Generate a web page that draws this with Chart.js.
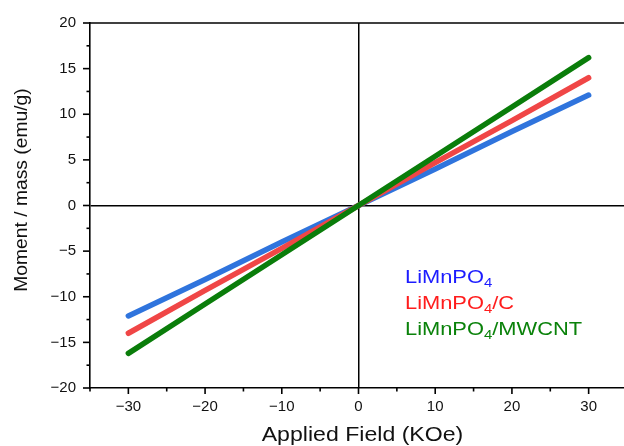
<!DOCTYPE html>
<html>
<head>
<meta charset="utf-8">
<script src="https://cdn.jsdelivr.net/npm/chart.js@4/dist/chart.umd.min.js"></script>
<style>
  html, body { margin: 0; padding: 0; overflow: hidden; background: #fff; }
  canvas { display: block; }
</style>
</head>
<body>
<canvas id="c" width="640" height="446"></canvas>
<script>
// ---- data ----
const fieldKOe = [-30, -20, -10, 0, 10, 20, 30];
const seriesNames = ['LiMnPO4', 'LiMnPO4/C', 'LiMnPO4/MWCNT'];
const momentLiMnPO4 = [-12.1, -8.1, -4.0, 0, 4.0, 8.1, 12.1];
const momentLiMnPO4C = [-14.0, -9.3, -4.7, 0, 4.7, 9.3, 14.0];
const momentLiMnPO4MWCNT = [-16.2, -10.8, -5.4, 0, 5.4, 10.8, 16.2];
const xTickValues = [-30, -20, -10, 0, 10, 20, 30];
const yTickValues = [-20, -15, -10, -5, 0, 5, 10, 15, 20];
const xTitle = 'Applied Field (KOe)';
const yTitle = 'Moment / mass (emu/g)';

const lineColors = ['#2f74dd', '#f04646', '#0a7d0a'];
const legendColors = ['#1c1cff', '#ff1c1c', '#0a820a'];
const FONT = '"Liberation Sans", Arial, sans-serif';

const allSeries = [momentLiMnPO4, momentLiMnPO4C, momentLiMnPO4MWCNT];
const datasets = allSeries.map((vals, i) => ({
  label: seriesNames[i],
  data: fieldKOe.map((x, k) => ({ x: x, y: vals[k] })),
  borderColor: lineColors[i],
  backgroundColor: lineColors[i],
  borderWidth: 5.5,
  borderCapStyle: 'round',
  pointRadius: 0,
  tension: 0,
  fill: false
}));
// draw order: green first, then red, then blue on top (as in reference)
datasets.reverse();

const minus = v => (v < 0 ? '\u2212' + Math.abs(v) : String(v));

const decor = {
  id: 'decor',
  beforeDatasetsDraw(chart) {
    const ctx = chart.ctx;
    const a = chart.chartArea;
    const xs = chart.scales.x, ys = chart.scales.y;
    ctx.save();
    ctx.strokeStyle = '#000';
    ctx.lineWidth = 1.6;
    // top frame line
    ctx.beginPath();
    ctx.moveTo(a.left, a.top);
    ctx.lineTo(a.right + 20, a.top);
    ctx.stroke();
    // x tick marks
    for (let v = -35; v <= 35; v += 5) {
      const px = xs.getPixelForValue(v);
      const len = (v % 10 === 0) ? 6 : 3.5;
      ctx.beginPath();
      ctx.moveTo(px, a.bottom);
      ctx.lineTo(px, a.bottom + len);
      ctx.stroke();
    }
    // y tick marks
    for (let v = -20; v <= 20; v += 2.5) {
      const py = ys.getPixelForValue(v);
      const len = (v % 5 === 0) ? 7 : 3.5;
      ctx.beginPath();
      ctx.moveTo(a.left, py);
      ctx.lineTo(a.left - len, py);
      ctx.stroke();
    }
    ctx.restore();
  },
  afterDatasetsDraw(chart) {
    const ctx = chart.ctx;
    ctx.save();
    ctx.fillStyle = '#111';
    // x title
    ctx.font = '21px ' + FONT;
    ctx.textAlign = 'center';
    ctx.textBaseline = 'alphabetic';
    ctx.translate(362.5, 441);
    ctx.scale(1.1, 1);
    ctx.fillText(xTitle, 0, 0);
    ctx.restore();

    ctx.save();
    ctx.fillStyle = '#111';
    ctx.font = '18px ' + FONT;
    ctx.textAlign = 'center';
    ctx.textBaseline = 'alphabetic';
    ctx.translate(27, 190);
    ctx.rotate(-Math.PI / 2);
    ctx.scale(1.07, 1);
    ctx.fillText(yTitle, 0, 0);
    ctx.restore();

    // legend (text only, coloured, with subscript 4)
    const baseY = [283, 309, 335];
    seriesNames.forEach((name, i) => {
      ctx.save();
      ctx.translate(405, baseY[i]);
      ctx.scale(1.15, 1);
      ctx.fillStyle = legendColors[i];
      ctx.textAlign = 'left';
      ctx.textBaseline = 'alphabetic';
      const idx = name.indexOf('4');
      const pre = name.slice(0, idx);
      const post = name.slice(idx + 1);
      ctx.font = '19px ' + FONT;
      ctx.fillText(pre, 0, 0);
      let x = ctx.measureText(pre).width;
      ctx.font = '13px ' + FONT;
      ctx.fillText('4', x, 4);
      x += ctx.measureText('4').width;
      ctx.font = '19px ' + FONT;
      ctx.fillText(post, x, 0);
      ctx.restore();
    });
  }
};

new Chart(document.getElementById('c'), {
  type: 'line',
  data: { datasets: datasets },
  options: {
    responsive: false,
    animation: false,
    layout: { padding: { left: 0, right: 13, top: 19, bottom: 0 } },
    plugins: { legend: { display: false }, tooltip: { enabled: false } },
    scales: {
      x: {
        type: 'linear',
        min: -35, max: 35,
        afterBuildTicks: s => { s.ticks = xTickValues.map(v => ({ value: v })); },
        afterFit: s => { s.height = 58; },
        grid: {
          display: true, drawOnChartArea: true, drawTicks: false,
          lineWidth: 1.5,
          color: c => (c.tick && c.tick.value === 0 ? '#000' : 'rgba(0,0,0,0)')
        },
        border: { display: true, color: '#000', width: 1.6 },
        ticks: {
          color: '#111', padding: 10,
          font: { family: FONT, size: 15 },
          callback: v => minus(v),
          maxRotation: 0
        }
      },
      y: {
        type: 'linear',
        min: -20, max: 20,
        afterBuildTicks: s => { s.ticks = yTickValues.map(v => ({ value: v })); },
        afterFit: s => { s.width = 90; },
        grid: {
          display: true, drawOnChartArea: true, drawTicks: false,
          lineWidth: 1.5,
          color: c => (c.tick && c.tick.value === 0 ? '#000' : 'rgba(0,0,0,0)')
        },
        border: { display: true, color: '#000', width: 1.6 },
        ticks: {
          color: '#111', padding: 14,
          font: { family: FONT, size: 15 },
          callback: v => minus(v)
        }
      }
    }
  },
  plugins: [decor]
});
</script>
</body>
</html>
